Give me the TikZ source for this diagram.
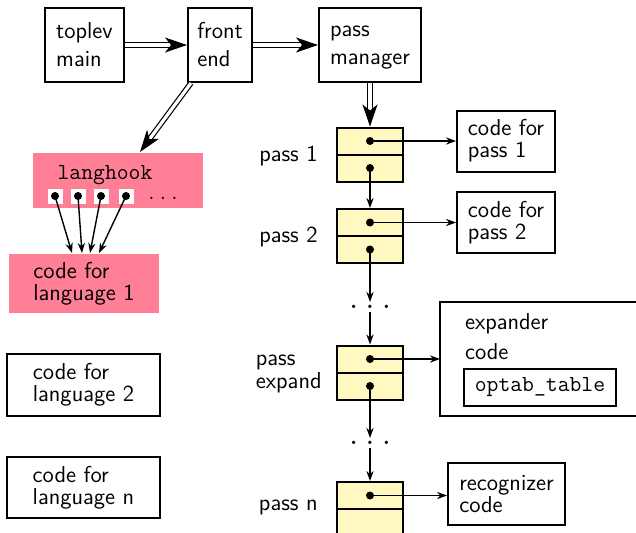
\documentclass[tikz,border=0pt]{standalone}
\usetikzlibrary{positioning,arrows.meta}
\definecolor{hookpink}{RGB}{255,128,150}
\definecolor{cellyellow}{RGB}{255,249,193}
\tikzset{gbox/.style={
    rectangle,
    draw,
    line width=1pt,
    align=left,
    inner sep=0pt
  },
  topbox/.style={gbox,minimum height=37pt,font={\fontsize{11.5}{14}\selectfont\sffamily}},
  codebox/.style={gbox,font={\fontsize{11.5}{11}\selectfont\sffamily}},
  pinkbox/.style={codebox,draw=none,fill=hookpink},
  cellbox/.style={gbox,fill=cellyellow,minimum width=33pt,minimum height=13.5pt},
  slotbox/.style={rectangle,fill=white,minimum size=7.5pt,inner sep=0pt},
  gapdots/.style={inner sep=1.5pt,font={\fontsize{11.5}{11}\selectfont\bfseries}},
  passlabel/.style={align=left,inner sep=0pt,font={\fontsize{11.5}{11.5}\selectfont\sffamily}},
  ptr/.style={line width=0.7pt,-{Stealth[length=5pt,width=3.6pt,inset=1.6pt]}},
  dblarrow/.style={double,double distance=1.6pt,line width=0.6pt,-{Stealth[length=11pt,width=7.5pt,inset=3pt]}},
}
\begin{document}
\begin{tikzpicture}[x=0.5pt,y=-0.5pt]
  \useasboundingbox (0,0) rectangle (636,532);
  \clip (0,0) rectangle (636,532);
  % driver boxes
  \node[topbox,minimum width=39.5pt] (toplev) at (84.5,45) {toplev\\main};
  \node[topbox,minimum width=32pt] (front) at (220,45) {front\\end};
  \node[topbox,minimum width=51pt] (passmgr) at (370,45) {pass\\\smash{manager}};

  % language hooks
  \node[pinkbox,minimum width=85pt,minimum height=27.5pt] (langhook) at (118,180.5) {};
  \node[font={\fontsize{11.5}{11}\selectfont\ttfamily}] (hookname) at (105,175) {langhook};
  \foreach \i/\x in {1/55,2/78,3/101,4/126} {
    \node[slotbox] (slot\i) at (\x,196) {};
    \fill (slot\i.center) circle (2pt);
  }
  \node[font={\fontsize{11.5}{11}\selectfont}] (hookmore) at (163,198) {.\hspace{2.6pt}.\hspace{2.6pt}.};
  \node[pinkbox,minimum width=75pt,minimum height=29.5pt] (lang1) at (84,283.5) {code for\\language 1};
  \node[codebox,minimum width=76.5pt,minimum height=31pt] (lang2) at (83.5,385) {code for\\language 2};
  \node[codebox,minimum width=76.5pt,minimum height=30.5pt] (langn) at (83.5,487.5) {code for\\language n};
  \foreach \i/\s in {1/-6pt,2/-1pt,3/3pt,4/7.5pt}
    \draw[ptr] (slot\i.center) -- ([xshift=\s]lang1.north);

  % pass list
  \node[cellbox] (p1a) at (370,141) {};
  \node[cellbox] (p1b) at (370,168) {};
  \node[cellbox] (p2a) at (370,222.5) {};
  \node[cellbox] (p2b) at (370,249.5) {};
  \node[cellbox] (p3a) at (370,359) {};
  \node[cellbox] (p3b) at (370,386) {};
  \node[cellbox] (p4a) at (370,495.5) {};
  \node[cellbox] (p4b) at (370,522.5) {};
  \foreach \c in {p1a,p1b,p2a,p2b,p3a,p3b,p4a}
    \fill (\c.center) circle (2pt);
  \node[gapdots] (gap1) at (370,307) {.\hspace{4.6pt}.\hspace{4.6pt}.};
  \node[gapdots] (gap2) at (370,443) {.\hspace{4.6pt}.\hspace{4.6pt}.};

  \node[passlabel,left=9pt of p1a.south west] (lab1) {pass 1};
  \node[passlabel,left=9pt of p2a.south west] (lab2) {pass 2};
  \node[passlabel,left=7pt of p3a.south west] (lab3) {pass\\expand};
  \node[passlabel,left=9pt of p4a.south west,yshift=1.5pt] (lab4) {pass n};

  % pass code
  \node[codebox,minimum width=49pt,minimum height=30.5pt] (cp1) at (506,141) {code for\\pass 1};
  \node[codebox,minimum width=49pt,minimum height=30.5pt] (cp2) at (506,222.5) {code for\\pass 2};
  \node[gbox,draw=none,minimum width=150pt,minimum height=56pt] (expander) at (591,359) {};
  \draw[line width=1pt] (expander.north east) -- (expander.north west)
    -- (expander.south west) -- (expander.south east);
  \node[codebox,draw=none,anchor=west] (exptext) at (464,324) {expander};
  \node[codebox,draw=none,anchor=west] (expcode) at (464,352) {code};
  \node[gbox,minimum width=76pt,minimum height=18.5pt,font={\fontsize{11.5}{11}\selectfont\ttfamily}] (optab) at (540,387.5) {optab\_table};
  \node[codebox,minimum width=58.5pt,minimum height=31pt] (rec) at (506.5,494) {recognizer\\code};

  \draw[dblarrow] (toplev) -- (front);
  \draw[dblarrow] (front) -- (passmgr);
  \draw[dblarrow] ([xshift=2pt]front.south west) -- ([xshift=11pt]langhook.north);
  \draw[dblarrow] (passmgr) -- (p1a);

  \draw[ptr] (p1b.center) -- (p2a.north);
  \draw[ptr] (p2b.center) -- (gap1);
  \draw[ptr] (gap1) -- (p3a.north);
  \draw[ptr] (p3b.center) -- (gap2);
  \draw[ptr] (gap2) -- (p4a.north);
  \draw[ptr] (p1a.center) -- (cp1.west);
  \draw[ptr] (p2a.center) -- (cp2.west);
  \draw[ptr] (p3a.center) -- (expander.west);
  \draw[ptr] (p4a.center) -- (p4a.center -| rec.west);
\end{tikzpicture}
\end{document}
